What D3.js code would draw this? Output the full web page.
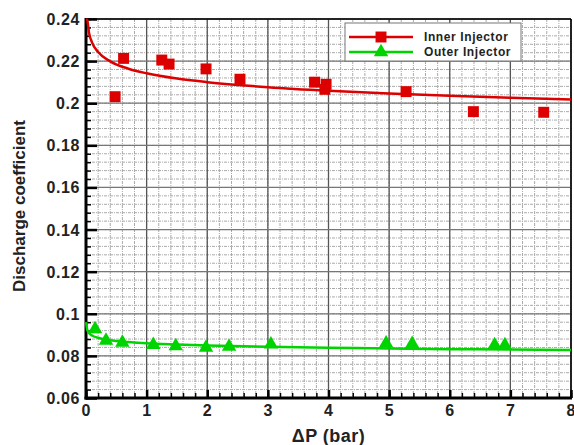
<!DOCTYPE html>
<html>
<head>
<meta charset="utf-8">
<script src="https://d3js.org/d3.v7.min.js"></script>
<style>
  body { margin: 0; background: #fff; }
  text { font-family: "Liberation Sans", Arial, sans-serif; }
</style>
</head>
<body>
<div id="chart"></div>
<script>
// measured points (squares / triangles)
var innerX = [0.48, 0.62, 1.25, 1.37, 1.98, 2.54, 3.77, 3.96, 3.94, 5.28, 6.39, 7.55];
var innerY = [0.2031, 0.2213, 0.2205, 0.2186, 0.2163, 0.2114, 0.2100, 0.2090, 0.2066, 0.2055, 0.1960, 0.1957];
var outerX = [0.15, 0.33, 0.6, 1.11, 1.48, 1.98, 2.36, 3.05, 4.95, 5.38, 6.74, 6.91];
var outerY = [0.0927, 0.0873, 0.0863, 0.0852, 0.0847, 0.0839, 0.0844, 0.0855, 0.0860, 0.0857, 0.0851, 0.0851];

// fitted curves
var fitX = [0.003, 0.02, 0.05, 0.1, 0.2, 0.4, 0.7, 1, 1.5, 2, 3, 4, 5, 6, 7, 8];
var innerFitY = [0.2400, 0.2395, 0.2334, 0.2288, 0.2243, 0.2199, 0.2164, 0.2142, 0.2117, 0.2100, 0.2076, 0.2059, 0.2046, 0.2035, 0.2026, 0.2018];
var outerFitY = [0.0960, 0.0924, 0.0908, 0.0897, 0.0886, 0.0874, 0.0866, 0.0860, 0.0854, 0.0849, 0.0843, 0.0839, 0.0835, 0.0832, 0.0830, 0.0828];

var xTicks = [0, 1, 2, 3, 4, 5, 6, 7, 8];
var yTicks = [0.06, 0.08, 0.1, 0.12, 0.14, 0.16, 0.18, 0.2, 0.22, 0.24];
var seriesNames = ["Inner Injector", "Outer Injector"];

var W = 574, H = 445;
var pLeft = 86, pRight = 571, pTop = 19, pBottom = 398;
var red = "#dd0000", green = "#00d400";

var x = d3.scaleLinear().domain([0, 8]).range([pLeft, pRight]);
var y = d3.scaleLinear().domain([0.06, 0.24]).range([pBottom, pTop]);

var svg = d3.select("#chart").append("svg").attr("width", W).attr("height", H);

var xMinor = d3.range(0, 8.001, 0.2);
var yMinor = d3.range(0.06, 0.2401, 0.004);

// minor dotted grid
svg.append("g").selectAll("line").data(xMinor).enter().append("line")
  .attr("x1", function (d) { return x(d); }).attr("x2", function (d) { return x(d); })
  .attr("y1", pTop).attr("y2", pBottom)
  .style("stroke", "#aaa").style("stroke-width", 1).style("stroke-dasharray", "3,1,1,1");
svg.append("g").selectAll("line").data(yMinor).enter().append("line")
  .attr("y1", function (d) { return y(d); }).attr("y2", function (d) { return y(d); })
  .attr("x1", pLeft).attr("x2", pRight)
  .style("stroke", "#aaa").style("stroke-width", 1).style("stroke-dasharray", "3,1,1,1");

// major grid
svg.append("g").selectAll("line").data(xTicks).enter().append("line")
  .attr("x1", function (d) { return x(d); }).attr("x2", function (d) { return x(d); })
  .attr("y1", pTop).attr("y2", pBottom)
  .style("stroke", "#555").style("stroke-width", 1.3);
svg.append("g").selectAll("line").data(yTicks).enter().append("line")
  .attr("y1", function (d) { return y(d); }).attr("y2", function (d) { return y(d); })
  .attr("x1", pLeft).attr("x2", pRight)
  .style("stroke", "#777").style("stroke-width", 1.3);

// axes with inward ticks
var yAxis = d3.axisRight(y).tickValues(yTicks).tickSize(11).tickFormat("");
var gy = svg.append("g").attr("transform", "translate(" + pLeft + ",0)").call(yAxis);
gy.select(".domain").remove();
gy.selectAll("line").style("stroke", "#000").style("stroke-width", 2.5);
var yAxisMinor = d3.axisRight(y).tickValues(yMinor).tickSize(5).tickFormat("");
var gym = svg.append("g").attr("transform", "translate(" + pLeft + ",0)").call(yAxisMinor);
gym.select(".domain").remove();
gym.selectAll("line").style("stroke", "#000").style("stroke-width", 1.5);

var xAxis = d3.axisTop(x).tickValues(xTicks).tickSize(8).tickFormat("");
var gx = svg.append("g").attr("transform", "translate(0," + pBottom + ")").call(xAxis);
gx.select(".domain").remove();
gx.selectAll("line").style("stroke", "#000").style("stroke-width", 2.5);
var xAxisMinor = d3.axisTop(x).tickValues(xMinor).tickSize(5).tickFormat("");
var gxm = svg.append("g").attr("transform", "translate(0," + pBottom + ")").call(xAxisMinor);
gxm.select(".domain").remove();
gxm.selectAll("line").style("stroke", "#000").style("stroke-width", 1.5);

// frame
svg.append("line").attr("x1", pLeft).attr("x2", pRight).attr("y1", pTop).attr("y2", pTop)
  .style("stroke", "#000").style("stroke-width", 1.5);
svg.append("line").attr("x1", pRight).attr("x2", pRight).attr("y1", pTop).attr("y2", pBottom)
  .style("stroke", "#000").style("stroke-width", 1.5);
svg.append("line").attr("x1", pLeft).attr("x2", pLeft).attr("y1", pTop - 1).attr("y2", pBottom + 1.5)
  .style("stroke", "#000").style("stroke-width", 3);
svg.append("line").attr("x1", pLeft - 1.5).attr("x2", pRight + 1).attr("y1", pBottom).attr("y2", pBottom)
  .style("stroke", "#000").style("stroke-width", 3);

// tick labels
svg.append("g").selectAll("text").data(yTicks).enter().append("text")
  .attr("x", pLeft - 6).attr("y", function (d) { return y(d) + 6; })
  .attr("text-anchor", "end")
  .style("font-size", "16px").style("font-weight", "bold").style("letter-spacing", "0.6px")
  .style("fill", "#222")
  .text(function (d) { return +d.toFixed(2); });
svg.append("g").selectAll("text").data(xTicks).enter().append("text")
  .attr("x", function (d) { return x(d); }).attr("y", 416)
  .attr("text-anchor", "middle")
  .style("font-size", "16px").style("font-weight", "bold").style("fill", "#222")
  .text(function (d) { return d; });

// axis titles
svg.append("text").attr("x", (pLeft + pRight) / 2).attr("y", 442)
  .attr("text-anchor", "middle")
  .style("font-size", "18px").style("font-weight", "bold").style("letter-spacing", "0.5px")
  .style("fill", "#222")
  .text("\u0394P (bar)");
svg.append("text").attr("transform", "translate(25,206) rotate(-90)")
  .attr("text-anchor", "middle")
  .style("font-size", "17px").style("font-weight", "bold").style("fill", "#222")
  .text("Discharge coefficient");

// fit lines
var line = d3.line()
  .x(function (d) { return x(d[0]); })
  .y(function (d) { return y(d[1]); })
  .curve(d3.curveMonotoneX);

svg.append("path").datum(d3.zip(fitX, innerFitY)).attr("d", line)
  .style("fill", "none").style("stroke", red).style("stroke-width", 2.5);
svg.append("path").datum(d3.zip(fitX, outerFitY)).attr("d", line)
  .style("fill", "none").style("stroke", green).style("stroke-width", 2.5);

// markers
var sq = d3.symbol().type(d3.symbolSquare).size(120);
var tri = d3.symbol().type(d3.symbolTriangle).size(90);

svg.append("g").selectAll("path").data(d3.zip(innerX, innerY)).enter().append("path")
  .attr("d", sq)
  .attr("transform", function (d) { return "translate(" + x(d[0]) + "," + y(d[1]) + ")"; })
  .style("fill", red);
svg.append("g").selectAll("path").data(d3.zip(outerX, outerY)).enter().append("path")
  .attr("d", tri)
  .attr("transform", function (d) { return "translate(" + x(d[0]) + "," + y(d[1]) + ")"; })
  .style("fill", green);

// legend
var lg = svg.append("g");
lg.append("rect").attr("x", 345).attr("y", 23).attr("width", 176).attr("height", 38)
  .style("fill", "#fff").style("stroke", "#777").style("stroke-width", 1);
var colors = [red, green];
var syms = [sq, tri];
seriesNames.forEach(function (name, i) {
  var ly = 37 + i * 15;
  lg.append("line").attr("x1", 349).attr("x2", 413).attr("y1", ly).attr("y2", ly)
    .style("stroke", colors[i]).style("stroke-width", 2.5);
  lg.append("path").attr("d", syms[i]).attr("transform", "translate(381," + ly + ")")
    .style("fill", colors[i]);
  lg.append("text").attr("x", 424).attr("y", ly + 4)
    .style("font-size", "12px").style("font-weight", "bold").style("letter-spacing", "0.6px")
    .style("fill", "#222")
    .text(name);
});
</script>
</body>
</html>
